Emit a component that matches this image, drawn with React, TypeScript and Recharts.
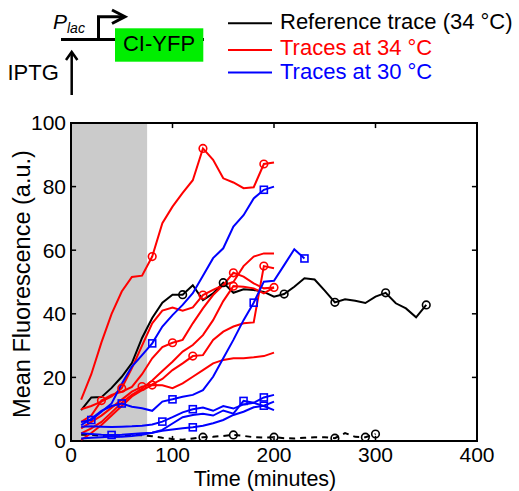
import { LineChart, Line, XAxis, YAxis, ReferenceArea, ReferenceLine } from 'recharts';

const FONT = '"Liberation Sans", Arial, Helvetica, sans-serif';
const RED = '#ff0000';
const BLUE = '#0000ff';

// sample times (minutes)
const minutesTo200 = [10, 20, 30, 40, 50, 60, 70, 80, 90, 100, 110, 120, 130, 140, 150, 160, 170, 180, 190, 200];
const minutesTo230 = [10, 20, 30, 40, 50, 60, 70, 80, 90, 100, 110, 120, 130, 140, 150, 160, 170, 180, 190, 200, 210, 220, 230];
const minutesTo300 = [10, 20, 30, 40, 50, 60, 70, 80, 90, 100, 110, 120, 130, 140, 150, 160, 170, 180, 190, 200, 210, 220, 230, 240, 250, 260, 270, 280, 290, 300];
const minutesTo350 = [10, 20, 30, 40, 50, 60, 70, 80, 90, 100, 110, 120, 130, 140, 150, 160, 170, 180, 190, 200, 210, 220, 230, 240, 250, 260, 270, 280, 290, 300, 310, 320, 330, 340, 350];

// reference trace (34 °C) and its no-induction control (dashed)
const referenceTrace = [9.7, 13.7, 13.8, 16.7, 20.2, 24.5, 32.4, 38.7, 43.5, 46, 46, 49, 44.3, 46.4, 49.8, 46.6, 47.7, 47.5, 46.9, 45.4, 46.2, 48.5, 51.2, 50.8, 47.3, 43.6, 44.6, 44.1, 43.4, 45.4, 46.6, 43.3, 41.7, 38.9, 42.8];
const referenceMarks = [110, 150, 210, 260, 310, 350];
const controlTrace = [2, 2, 1.6, 1.3, 1.5, 2, 1.8, 1.5, 1, 0.6, 0.4, 0.8, 1.2, 1.3, 1.6, 1.9, 1.6, 1.2, 1.1, 1.2, 0.9, 0.8, 1, 1.2, 1.2, 0.9, 2.5, 1.3, 1.2, 2.2];
const controlMarks = [130, 160, 200, 260, 290, 300];

// traces at 34 °C
const red1 = [13, 21, 31, 40, 47, 51.6, 52, 58, 68.5, 73.7, 78, 82, 92, 88.4, 82.6, 81.3, 79.5, 79.8, 87.1, 87.6];
const red1Marks = [80, 130, 190];
const red2 = [10, 11, 12.4, 14, 16.6, 22.9, 30, 37, 41, 42, 41, 42, 45.9, 47.5, 49, 50, 55, 58, 59, 59];
const red2Marks = [50, 130];
const red3 = [6, 8, 12.7, 14.5, 15.5, 17, 21, 26, 29.5, 30.9, 31.8, 37, 41.7, 45.9, 49, 52.9, 51.7, 49.6, 48, 48.3];
const red3Marks = [30, 100, 160, 200];
const red4 = [4, 6, 8, 10.5, 13, 15.5, 17.1, 17.8, 19.5, 22.3, 24.4, 26.7, 27, 31.8, 34.4, 36, 37, 37.3, 55, 54.3];
const red4Marks = [70, 120, 190];
const red5 = [0.3, 2.5, 5, 8, 11, 14, 16, 17.6, 17.5, 16.6, 18.1, 20.2, 22.3, 24.4, 25.5, 26, 26, 26.3, 26.7, 27.8];
const red5Marks = [80];
const red6 = [2.4, 4, 6, 9, 12, 14.5, 16.5, 19, 22, 24.9, 28.1, 30.2, 33.3, 38, 44, 48.7, 48.5, 48, 46.4, 48.3];
const red6Marks = [160];

// traces at 30 °C
const blue1 = [6, 6.6, 9.2, 11.8, 18, 23.4, 27, 30.7, 36, 39.6, 42.8, 46.5, 52, 57.5, 60.6, 67.4, 71, 76.3, 79, 80];
const blue1Marks = [20, 80, 190];
const blue2 = [5, 7, 9.5, 11, 11.8, 10.8, 10.3, 9.5, 12.4, 13.1, 13.9, 14.5, 16, 20.2, 26, 31.8, 38, 43.5, 50.1, 50.4, 55.3, 60.3, 57.4];
const blue2Marks = [50, 100, 180, 230];
const blue3 = [4.5, 4.6, 4.5, 4.4, 4.5, 4.6, 4.8, 5.2, 6.1, 7.5, 9, 10, 10.5, 9.5, 11, 10.2, 11.5, 12, 13.7, 14.5];
const blue3Marks = [90, 120, 190];
const blue4 = [2.4, 2.2, 2, 1.9, 2, 2.2, 2.4, 2.6, 3.2, 3.6, 4, 4.3, 4.8, 5.6, 6.6, 8.2, 9.2, 10.6, 11.1, 12.4];
const blue4Marks = [40, 120, 190];
const blue5 = [0.8, 1, 1.2, 1.4, 1.3, 1.6, 2, 2.6, 3.5, 5.5, 7.5, 8.2, 8.6, 8, 9.6, 8.6, 12.6, 12, 11, 9.7];
const blue5Marks = [170];

const xTicks = [0, 100, 200, 300, 400];
const yTicks = [0, 20, 40, 60, 80, 100];
const X_MAX = 400;
const Y_MAX = 100;
const INDUCTION_END = 75;
// inward tick length, in axis units (~5px)
const X_TICK_LEN = 1.6;
const Y_TICK_LEN = 5;

type Pt = { t: number; v: number };
const toPoints = (times: number[], vals: number[]): Pt[] => vals.map((v, i) => ({ t: times[i], v }));

type Series = {
  id: string;
  data: Pt[];
  color: string;
  marks: number[];
  shape: 'circle' | 'square';
  dashed?: boolean;
};

const series: Series[] = [
  { id: 'ctrl', data: toPoints(minutesTo300, controlTrace), color: '#000', marks: controlMarks, shape: 'circle', dashed: true },
  { id: 'ref', data: toPoints(minutesTo350, referenceTrace), color: '#000', marks: referenceMarks, shape: 'circle' },
  { id: 'r1', data: toPoints(minutesTo200, red1), color: RED, marks: red1Marks, shape: 'circle' },
  { id: 'r2', data: toPoints(minutesTo200, red2), color: RED, marks: red2Marks, shape: 'circle' },
  { id: 'r3', data: toPoints(minutesTo200, red3), color: RED, marks: red3Marks, shape: 'circle' },
  { id: 'r4', data: toPoints(minutesTo200, red4), color: RED, marks: red4Marks, shape: 'circle' },
  { id: 'r5', data: toPoints(minutesTo200, red5), color: RED, marks: red5Marks, shape: 'circle' },
  { id: 'r6', data: toPoints(minutesTo200, red6), color: RED, marks: red6Marks, shape: 'circle' },
  { id: 'b1', data: toPoints(minutesTo200, blue1), color: BLUE, marks: blue1Marks, shape: 'square' },
  { id: 'b2', data: toPoints(minutesTo230, blue2), color: BLUE, marks: blue2Marks, shape: 'square' },
  { id: 'b3', data: toPoints(minutesTo200, blue3), color: BLUE, marks: blue3Marks, shape: 'square' },
  { id: 'b4', data: toPoints(minutesTo200, blue4), color: BLUE, marks: blue4Marks, shape: 'square' },
  { id: 'b5', data: toPoints(minutesTo200, blue5), color: BLUE, marks: blue5Marks, shape: 'square' },
];

const markerDot = (s: Series) => (props: any) => {
  const { cx, cy, payload, index } = props;
  const key = `${s.id}-${index}`;
  if (!payload || !s.marks.includes(payload.t) || cx == null || cy == null) return <g key={key} />;
  if (s.shape === 'square') {
    return <rect key={key} x={cx - 3.5} y={cy - 3.5} width={7} height={7} fill="none" stroke={s.color} strokeWidth={1.6} />;
  }
  return <circle key={key} cx={cx} cy={cy} r={3.8} fill="none" stroke={s.color} strokeWidth={1.6} />;
};

const tickStyle = { fill: '#000', fontSize: 21, fontFamily: FONT };

function Diagram() {
  return (
    <svg width={519} height={491} style={{ position: 'absolute', left: 0, top: 0, pointerEvents: 'none' }}>
      {/* promoter + gene */}
      <line x1={61} y1={39.5} x2={204} y2={39.5} stroke="#000" strokeWidth={3} />
      <polyline points="98.5,39.5 98.5,16.7 124,16.7" fill="none" stroke="#000" strokeWidth={3} />
      <polyline points="112,10 125,16.7 112,23.5" fill="none" stroke="#000" strokeWidth={3} />
      <rect x={115} y={28.3} width={88.3} height={33.4} fill="#00ee00" />
      <text x={159} y={50.5} textAnchor="middle" fontSize={22} fontFamily={FONT} fill="#000">CI-YFP</text>
      <text x={53} y={28.5} fontSize={21} fontFamily={FONT} fontStyle="italic" fill="#000">P</text>
      <text x={67} y={32.5} fontSize={14} fontFamily={FONT} fontStyle="italic" fill="#000">lac</text>
      <text x={7.5} y={80} fontSize={22} fontFamily={FONT} fill="#000">IPTG</text>
      <line x1={71.7} y1={95} x2={71.7} y2={52} stroke="#000" strokeWidth={2.5} />
      <polyline points="66,60 71.7,52 77.4,60" fill="none" stroke="#000" strokeWidth={2.5} />

      {/* legend */}
      <line x1={228} y1={23.3} x2={272} y2={23.3} stroke="#000" strokeWidth={2} />
      <text x={280} y={28.5} fontSize={22} fontFamily={FONT} fill="#000">Reference trace (34 °C)</text>
      <line x1={228} y1={50} x2={272} y2={50} stroke={RED} strokeWidth={2} />
      <text x={280} y={54.5} fontSize={22} fontFamily={FONT} fill={RED}>Traces at 34 °C</text>
      <line x1={228} y1={72.5} x2={272} y2={72.5} stroke={BLUE} strokeWidth={2} />
      <text x={280} y={79} fontSize={22} fontFamily={FONT} fill={BLUE}>Traces at 30 °C</text>

      {/* axis titles */}
      <text x={265} y={486} textAnchor="middle" fontSize={21.5} fontFamily={FONT} fill="#000">Time (minutes)</text>
      <text transform="translate(30,284) rotate(-90)" textAnchor="middle" fontSize={23.5} fontFamily={FONT} fill="#000">
        Mean Fluorescence (a.u.)
      </text>
    </svg>
  );
}

export default function App() {
  return (
    <div style={{ position: 'absolute', left: 0, top: 0, width: 519, height: 491, background: '#fff' }}>
      <LineChart width={519} height={491} margin={{ top: 123, right: 42, bottom: 20, left: 31 }}>
        <ReferenceArea x1={0} x2={INDUCTION_END} y1={0} y2={Y_MAX} fill="#cbcbcb" fillOpacity={1} stroke="none" />
        <XAxis
          type="number"
          dataKey="t"
          domain={[0, X_MAX]}
          ticks={xTicks}
          allowDataOverflow
          height={30}
          tickLine={false}
          axisLine={false}
          tickSize={0}
          tickMargin={6}
          tick={tickStyle}
        />
        <YAxis
          type="number"
          domain={[0, Y_MAX]}
          ticks={yTicks}
          allowDataOverflow
          width={40}
          tickLine={false}
          axisLine={false}
          tickSize={0}
          tickMargin={5}
          tick={tickStyle}
        />
        {/* Matlab-style box with inward ticks */}
        <ReferenceArea x1={0} x2={X_MAX} y1={0} y2={Y_MAX} fill="none" stroke="#000" strokeWidth={2} />
        {xTicks.map((t) => (
          <ReferenceLine key={`xb${t}`} segment={[{ x: t, y: 0 }, { x: t, y: X_TICK_LEN }]} stroke="#000" strokeWidth={1.5} />
        ))}
        {xTicks.map((t) => (
          <ReferenceLine key={`xt${t}`} segment={[{ x: t, y: Y_MAX }, { x: t, y: Y_MAX - X_TICK_LEN }]} stroke="#000" strokeWidth={1.5} />
        ))}
        {yTicks.map((v) => (
          <ReferenceLine key={`yl${v}`} segment={[{ x: 0, y: v }, { x: Y_TICK_LEN, y: v }]} stroke="#000" strokeWidth={1.5} />
        ))}
        {yTicks.map((v) => (
          <ReferenceLine key={`yr${v}`} segment={[{ x: X_MAX, y: v }, { x: X_MAX - Y_TICK_LEN, y: v }]} stroke="#000" strokeWidth={1.5} />
        ))}
        {series.map((s) => (
          <Line
            key={s.id}
            data={s.data}
            dataKey="v"
            type="linear"
            stroke={s.color}
            strokeWidth={2}
            strokeDasharray={s.dashed ? '6 5' : undefined}
            dot={markerDot(s)}
            activeDot={false}
            isAnimationActive={false}
            legendType="none"
          />
        ))}
      </LineChart>
      <Diagram />
    </div>
  );
}
